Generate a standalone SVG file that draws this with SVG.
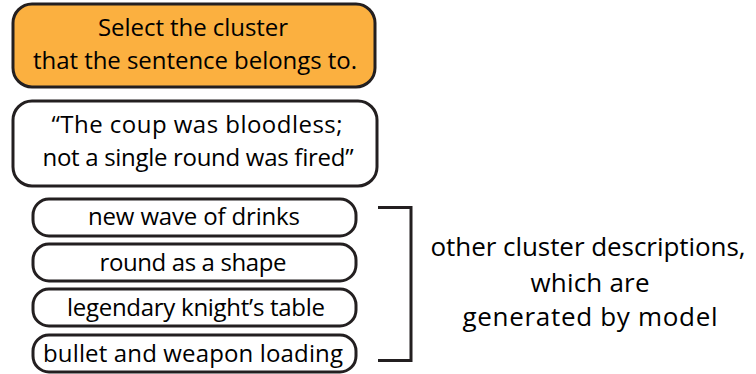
<svg xmlns="http://www.w3.org/2000/svg" width="756" height="374" viewBox="0 0 756 374">
<style>
.box{fill:#fff;stroke:#231f20;stroke-width:3}
.orange{fill:#fbb040;stroke:#231f20;stroke-width:3}
.t{font-family:"Open Sans","Liberation Sans",sans-serif;font-size:24px;fill:#000;text-anchor:middle}
.n{font-size:26px}
.br{fill:none;stroke:#231f20;stroke-width:3}
</style>
<rect width="756" height="374" fill="#fff"/>
<g id="instruction">
<rect class="orange" x="13" y="4" width="362" height="83" rx="19"/>
<text class="t" x="193" y="36" textLength="190">Select the cluster</text>
<text class="t" x="195" y="69" textLength="324">that the sentence belongs to.</text>
</g>
<g id="sentence">
<rect class="box" x="13" y="101" width="364" height="85" rx="19"/>
<text class="t" x="197" y="133" textLength="291">“The coup was bloodless;</text>
<text class="t" x="198" y="166" textLength="311">not a single round was fired”</text>
</g>
<g id="c1">
<rect class="box" x="33" y="199" width="323" height="37" rx="16"/>
<text class="t" x="194" y="225" textLength="212">new wave of drinks</text>
</g>
<g id="c2">
<rect class="box" x="33" y="244" width="323" height="37" rx="16"/>
<text class="t" x="193" y="271" textLength="187">round as a shape</text>
</g>
<g id="c3">
<rect class="box" x="33" y="289" width="323" height="37" rx="16"/>
<text class="t" x="196" y="316" textLength="258">legendary knight’s table</text>
</g>
<g id="c4">
<rect class="box" x="33" y="335" width="323" height="37" rx="16"/>
<text class="t" x="193" y="362" textLength="300">bullet and weapon loading</text>
</g>
<g id="connectors">
<path class="br" d="M378,207.5 H411 V360.5 H378"/>
</g>
<g id="note">
<text class="t n" x="588" y="256" textLength="315">other cluster descriptions,</text>
<text class="t n" x="590" y="292" textLength="119">which are</text>
<text class="t n" x="590" y="326" textLength="255">generated by model</text>
</g>
</svg>
